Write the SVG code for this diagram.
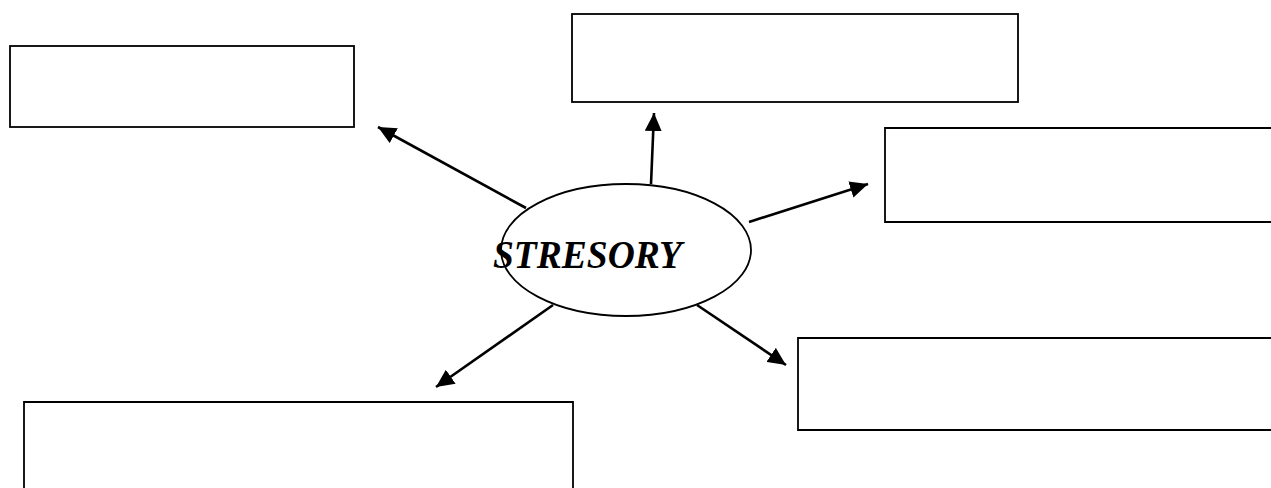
<svg xmlns="http://www.w3.org/2000/svg" width="1271" height="488" viewBox="0 0 1271 488">
  <style>
    .box { fill: #ffffff; stroke: #000000; stroke-width: 1.8; }
    .hub { fill: #ffffff; stroke: #000000; stroke-width: 1.8; }
    .link { stroke: #000000; stroke-width: 2.6; fill: none; marker-end: url(#head); }
    .title { font-family: "Liberation Serif", "Times New Roman", serif; font-weight: bold; font-style: italic; font-size: 40px; fill: #000000; }
  </style>
  <defs>
    <marker id="head" markerUnits="userSpaceOnUse" markerWidth="19" markerHeight="17" viewBox="0 0 19 17" refX="18" refY="8.5" orient="auto">
      <path d="M0,0 L18,8.5 L0,17 Z" fill="#000000"/>
    </marker>
  </defs>
  <rect width="1271" height="488" fill="#ffffff"/>

  <!-- empty boxes -->
  <g id="box-top-left"><rect class="box" x="10" y="46" width="344" height="81"/></g>
  <g id="box-top"><rect class="box" x="572" y="14" width="446" height="88"/></g>
  <g id="box-right"><path class="box" d="M1275,128 H885 V222 H1275"/></g>
  <g id="box-bottom-right"><path class="box" d="M1275,338 H798 V430 H1275"/></g>
  <g id="box-bottom-left"><path class="box" d="M24,492 V402 H573 V492"/></g>

  <!-- connectors from the hub -->
  <g id="connectors">
    <line class="link" x1="526" y1="208" x2="378" y2="127"/>
    <line class="link" x1="651" y1="184" x2="654" y2="113"/>
    <line class="link" x1="749" y1="222" x2="868" y2="184"/>
    <line class="link" x1="553" y1="305" x2="436" y2="387"/>
    <line class="link" x1="697" y1="305" x2="786" y2="365"/>
  </g>

  <!-- central hub -->
  <g id="hub">
    <ellipse class="hub" cx="626" cy="250" rx="125" ry="66"/>
    <text class="title" x="493" y="268" textLength="189" lengthAdjust="spacingAndGlyphs">STRESORY</text>
  </g>
</svg>
